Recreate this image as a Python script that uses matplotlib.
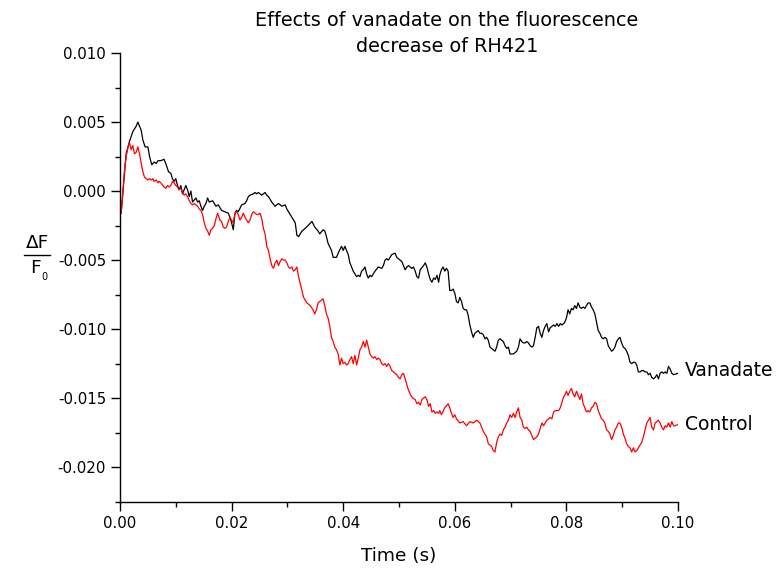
import matplotlib
matplotlib.use("Agg")
import matplotlib.pyplot as plt
from matplotlib.lines import Line2D
from matplotlib.ticker import MultipleLocator, FormatStrFormatter

plt.rcParams['font.family'] = ['DejaVu Sans']
plt.rcParams['axes.unicode_minus'] = False

# Vanadate trace (time in s, dF/F0)
t_vanadate = [
    0.0002, 0.0011, 0.0017, 0.0023, 0.0029, 0.0032, 0.0035, 0.0038, 0.0041, 0.0045,
    0.0050, 0.0053, 0.0057, 0.0061, 0.0065, 0.0068, 0.0073, 0.0079, 0.0082, 0.0087,
    0.0091, 0.0094, 0.0097, 0.0100, 0.0103, 0.0106, 0.0109, 0.0112, 0.0118, 0.0121,
    0.0124, 0.0127, 0.0130, 0.0136, 0.0139, 0.0142, 0.0145, 0.0148, 0.0151, 0.0154,
    0.0157, 0.0160, 0.0166, 0.0172, 0.0176, 0.0182, 0.0188, 0.0194, 0.0197, 0.0200,
    0.0203, 0.0206, 0.0209, 0.0212, 0.0218, 0.0224, 0.0227, 0.0230, 0.0233, 0.0239,
    0.0242, 0.0245, 0.0248, 0.0254, 0.0260, 0.0263, 0.0266, 0.0272, 0.0278, 0.0284,
    0.0290, 0.0296, 0.0299, 0.0302, 0.0308, 0.0314, 0.0317, 0.0320, 0.0326, 0.0332,
    0.0337, 0.0344, 0.0349, 0.0355, 0.0358, 0.0364, 0.0367, 0.0370, 0.0373, 0.0379,
    0.0382, 0.0388, 0.0391, 0.0397, 0.0400, 0.0403, 0.0406, 0.0409, 0.0412, 0.0415,
    0.0418, 0.0421, 0.0424, 0.0427, 0.0430, 0.0433, 0.0436, 0.0439, 0.0442, 0.0445,
    0.0448, 0.0451, 0.0454, 0.0457, 0.0463, 0.0469, 0.0472, 0.0475, 0.0478, 0.0481,
    0.0487, 0.0493, 0.0496, 0.0499, 0.0505, 0.0508, 0.0511, 0.0514, 0.0517, 0.0523,
    0.0526, 0.0529, 0.0532, 0.0535, 0.0538, 0.0544, 0.0547, 0.0550, 0.0553, 0.0556,
    0.0559, 0.0562, 0.0565, 0.0568, 0.0571, 0.0573, 0.0576, 0.0579, 0.0582, 0.0585,
    0.0588, 0.0591, 0.0594, 0.0597, 0.0600, 0.0603, 0.0606, 0.0609, 0.0612, 0.0615,
    0.0618, 0.0621, 0.0624, 0.0627, 0.0630, 0.0633, 0.0636, 0.0639, 0.0642, 0.0645,
    0.0648, 0.0651, 0.0654, 0.0657, 0.0660, 0.0663, 0.0666, 0.0669, 0.0672, 0.0675,
    0.0678, 0.0681, 0.0684, 0.0687, 0.0690, 0.0693, 0.0696, 0.0699, 0.0705, 0.0708,
    0.0711, 0.0714, 0.0717, 0.0720, 0.0723, 0.0726, 0.0729, 0.0732, 0.0735, 0.0738,
    0.0741, 0.0744, 0.0747, 0.0750, 0.0753, 0.0756, 0.0759, 0.0762, 0.0765, 0.0768,
    0.0771, 0.0774, 0.0777, 0.0780, 0.0783, 0.0786, 0.0789, 0.0792, 0.0795, 0.0797,
    0.0800, 0.0803, 0.0806, 0.0809, 0.0812, 0.0815, 0.0818, 0.0821, 0.0824, 0.0827,
    0.0830, 0.0833, 0.0836, 0.0839, 0.0842, 0.0845, 0.0848, 0.0851, 0.0854, 0.0857,
    0.0860, 0.0863, 0.0866, 0.0869, 0.0872, 0.0875, 0.0878, 0.0881, 0.0884, 0.0887,
    0.0890, 0.0893, 0.0896, 0.0899, 0.0902, 0.0905, 0.0908, 0.0911, 0.0914, 0.0917,
    0.0920, 0.0923, 0.0926, 0.0929, 0.0932, 0.0935, 0.0938, 0.0941, 0.0944, 0.0947,
    0.0950, 0.0953, 0.0956, 0.0959, 0.0962, 0.0965, 0.0968, 0.0971, 0.0974, 0.0977,
    0.0980, 0.0983, 0.0986, 0.0989, 0.0992, 0.1000,
]
dff_vanadate = [
    -0.0016, 0.0027, 0.0036, 0.0043, 0.0047, 0.0050, 0.0047, 0.0044, 0.0037, 0.0032,
    0.0032, 0.0025, 0.0019, 0.0021, 0.0020, 0.0022, 0.0022, 0.0023, 0.0020, 0.0014,
    0.0013, 0.0009, 0.0007, 0.0009, 0.0004, 0.0001, 0.0004, -0.0002, 0.0004, 0.0001,
    -0.0004, 0.0000, -0.0008, -0.0005, -0.0008, -0.0007, -0.0011, -0.0014, -0.0011, -0.0009,
    -0.0005, -0.0008, -0.0007, -0.0011, -0.0010, -0.0014, -0.0015, -0.0016, -0.0019, -0.0023,
    -0.0028, -0.0016, -0.0014, -0.0015, -0.0010, -0.0009, -0.0007, -0.0004, -0.0003, -0.0002,
    -0.0001, -0.0002, -0.0001, -0.0003, -0.0001, -0.0003, -0.0004, -0.0008, -0.0011, -0.0009,
    -0.0011, -0.0010, -0.0013, -0.0015, -0.0019, -0.0023, -0.0032, -0.0033, -0.0029, -0.0027,
    -0.0025, -0.0022, -0.0026, -0.0029, -0.0031, -0.0028, -0.0029, -0.0033, -0.0038, -0.0043,
    -0.0048, -0.0048, -0.0045, -0.0040, -0.0043, -0.0040, -0.0043, -0.0046, -0.0052, -0.0055,
    -0.0058, -0.0060, -0.0062, -0.0061, -0.0062, -0.0058, -0.0057, -0.0055, -0.0060, -0.0063,
    -0.0061, -0.0062, -0.0060, -0.0058, -0.0055, -0.0056, -0.0054, -0.0050, -0.0049, -0.0050,
    -0.0046, -0.0045, -0.0048, -0.0049, -0.0051, -0.0054, -0.0057, -0.0055, -0.0054, -0.0056,
    -0.0055, -0.0058, -0.0062, -0.0063, -0.0057, -0.0054, -0.0052, -0.0055, -0.0060, -0.0064,
    -0.0066, -0.0063, -0.0064, -0.0061, -0.0066, -0.0061, -0.0057, -0.0055, -0.0058, -0.0056,
    -0.0058, -0.0072, -0.0072, -0.0071, -0.0074, -0.0080, -0.0081, -0.0077, -0.0080, -0.0085,
    -0.0086, -0.0086, -0.0090, -0.0097, -0.0102, -0.0106, -0.0103, -0.0102, -0.0101, -0.0103,
    -0.0103, -0.0104, -0.0107, -0.0106, -0.0108, -0.0113, -0.0114, -0.0115, -0.0116, -0.0113,
    -0.0108, -0.0107, -0.0108, -0.0109, -0.0112, -0.0114, -0.0113, -0.0118, -0.0118, -0.0117,
    -0.0116, -0.0113, -0.0107, -0.0109, -0.0110, -0.0110, -0.0109, -0.0110, -0.0112, -0.0113,
    -0.0112, -0.0106, -0.0099, -0.0098, -0.0103, -0.0106, -0.0101, -0.0098, -0.0096, -0.0102,
    -0.0099, -0.0098, -0.0097, -0.0098, -0.0096, -0.0098, -0.0096, -0.0097, -0.0096, -0.0095,
    -0.0092, -0.0086, -0.0089, -0.0085, -0.0086, -0.0083, -0.0085, -0.0081, -0.0084, -0.0085,
    -0.0084, -0.0085, -0.0083, -0.0081, -0.0081, -0.0084, -0.0086, -0.0089, -0.0095, -0.0101,
    -0.0103, -0.0106, -0.0107, -0.0106, -0.0107, -0.0112, -0.0114, -0.0116, -0.0115, -0.0113,
    -0.0109, -0.0107, -0.0106, -0.0110, -0.0113, -0.0114, -0.0116, -0.0119, -0.0124, -0.0125,
    -0.0124, -0.0124, -0.0126, -0.0131, -0.0131, -0.0130, -0.0130, -0.0131, -0.0131, -0.0133,
    -0.0132, -0.0135, -0.0136, -0.0135, -0.0133, -0.0136, -0.0132, -0.0131, -0.0132, -0.0131,
    -0.0132, -0.0127, -0.0129, -0.0132, -0.0133, -0.0132,
]

# Control trace (time in s, dF/F0)
t_control = [
    0.0002, 0.0005, 0.0008, 0.0011, 0.0014, 0.0017, 0.0020, 0.0023, 0.0026, 0.0029,
    0.0032, 0.0035, 0.0038, 0.0041, 0.0044, 0.0047, 0.0050, 0.0053, 0.0056, 0.0059,
    0.0061, 0.0065, 0.0068, 0.0070, 0.0073, 0.0077, 0.0079, 0.0082, 0.0085, 0.0088,
    0.0091, 0.0094, 0.0097, 0.0100, 0.0103, 0.0106, 0.0109, 0.0112, 0.0115, 0.0118,
    0.0121, 0.0124, 0.0127, 0.0130, 0.0133, 0.0136, 0.0139, 0.0142, 0.0145, 0.0148,
    0.0151, 0.0154, 0.0157, 0.0160, 0.0163, 0.0166, 0.0169, 0.0172, 0.0175, 0.0179,
    0.0182, 0.0185, 0.0188, 0.0191, 0.0194, 0.0197, 0.0200, 0.0203, 0.0206, 0.0209,
    0.0212, 0.0215, 0.0218, 0.0221, 0.0224, 0.0227, 0.0230, 0.0233, 0.0236, 0.0239,
    0.0242, 0.0245, 0.0248, 0.0251, 0.0254, 0.0257, 0.0260, 0.0263, 0.0266, 0.0269,
    0.0272, 0.0275, 0.0278, 0.0281, 0.0284, 0.0287, 0.0290, 0.0293, 0.0296, 0.0299,
    0.0302, 0.0305, 0.0308, 0.0311, 0.0314, 0.0317, 0.0320, 0.0323, 0.0326, 0.0329,
    0.0335, 0.0341, 0.0346, 0.0349, 0.0352, 0.0355, 0.0358, 0.0361, 0.0364, 0.0367,
    0.0370, 0.0373, 0.0376, 0.0379, 0.0382, 0.0385, 0.0388, 0.0391, 0.0394, 0.0397,
    0.0400, 0.0403, 0.0406, 0.0409, 0.0412, 0.0415, 0.0418, 0.0421, 0.0424, 0.0427,
    0.0430, 0.0433, 0.0436, 0.0439, 0.0442, 0.0445, 0.0448, 0.0451, 0.0454, 0.0457,
    0.0460, 0.0463, 0.0466, 0.0469, 0.0472, 0.0475, 0.0478, 0.0481, 0.0484, 0.0487,
    0.0490, 0.0493, 0.0496, 0.0499, 0.0502, 0.0505, 0.0508, 0.0511, 0.0516, 0.0521,
    0.0525, 0.0529, 0.0532, 0.0535, 0.0538, 0.0541, 0.0544, 0.0547, 0.0550, 0.0553,
    0.0556, 0.0559, 0.0562, 0.0565, 0.0568, 0.0571, 0.0573, 0.0576, 0.0582, 0.0588,
    0.0591, 0.0594, 0.0597, 0.0600, 0.0603, 0.0609, 0.0615, 0.0621, 0.0627, 0.0633,
    0.0639, 0.0645, 0.0648, 0.0651, 0.0657, 0.0660, 0.0663, 0.0666, 0.0669, 0.0672,
    0.0675, 0.0678, 0.0681, 0.0684, 0.0687, 0.0690, 0.0693, 0.0696, 0.0699, 0.0702,
    0.0705, 0.0708, 0.0711, 0.0714, 0.0717, 0.0720, 0.0723, 0.0726, 0.0729, 0.0732,
    0.0735, 0.0738, 0.0741, 0.0744, 0.0747, 0.0750, 0.0753, 0.0756, 0.0759, 0.0762,
    0.0765, 0.0768, 0.0771, 0.0774, 0.0777, 0.0780, 0.0783, 0.0786, 0.0789, 0.0792,
    0.0795, 0.0797, 0.0800, 0.0803, 0.0806, 0.0809, 0.0812, 0.0815, 0.0818, 0.0821,
    0.0824, 0.0827, 0.0830, 0.0833, 0.0836, 0.0839, 0.0842, 0.0845, 0.0848, 0.0851,
    0.0854, 0.0857, 0.0860, 0.0863, 0.0866, 0.0869, 0.0872, 0.0875, 0.0878, 0.0881,
    0.0884, 0.0887, 0.0890, 0.0893, 0.0896, 0.0899, 0.0902, 0.0905, 0.0908, 0.0911,
    0.0914, 0.0917, 0.0920, 0.0923, 0.0926, 0.0929, 0.0932, 0.0935, 0.0938, 0.0941,
    0.0944, 0.0947, 0.0950, 0.0953, 0.0956, 0.0959, 0.0962, 0.0965, 0.0968, 0.0971,
    0.0974, 0.0977, 0.0980, 0.0983, 0.0986, 0.0989, 0.0992, 0.0995, 0.1000,
]
dff_control = [
    -0.0016, -0.0002, 0.0015, 0.0025, 0.0031, 0.0035, 0.0030, 0.0033, 0.0027, 0.0028,
    0.0032, 0.0027, 0.0020, 0.0014, 0.0010, 0.0009, 0.0008, 0.0009, 0.0008, 0.0009,
    0.0007, 0.0008, 0.0006, 0.0007, 0.0006, 0.0004, 0.0003, 0.0002, 0.0004, 0.0003,
    0.0004, 0.0007, 0.0006, 0.0004, 0.0003, 0.0001, 0.0002, -0.0001, -0.0003, -0.0002,
    -0.0004, -0.0007, -0.0009, -0.0010, -0.0009, -0.0010, -0.0011, -0.0013, -0.0014, -0.0017,
    -0.0023, -0.0027, -0.0029, -0.0032, -0.0028, -0.0027, -0.0025, -0.0020, -0.0016, -0.0021,
    -0.0022, -0.0026, -0.0027, -0.0026, -0.0022, -0.0019, -0.0021, -0.0023, -0.0016, -0.0015,
    -0.0017, -0.0021, -0.0019, -0.0016, -0.0019, -0.0021, -0.0023, -0.0021, -0.0017, -0.0015,
    -0.0016, -0.0017, -0.0017, -0.0016, -0.0020, -0.0027, -0.0031, -0.0040, -0.0043, -0.0049,
    -0.0054, -0.0056, -0.0052, -0.0050, -0.0054, -0.0051, -0.0049, -0.0050, -0.0050, -0.0052,
    -0.0055, -0.0056, -0.0055, -0.0058, -0.0057, -0.0055, -0.0062, -0.0067, -0.0072, -0.0077,
    -0.0081, -0.0083, -0.0086, -0.0089, -0.0086, -0.0081, -0.0080, -0.0079, -0.0078, -0.0083,
    -0.0089, -0.0092, -0.0098, -0.0106, -0.0109, -0.0113, -0.0115, -0.0118, -0.0126, -0.0121,
    -0.0125, -0.0124, -0.0126, -0.0125, -0.0122, -0.0120, -0.0125, -0.0119, -0.0126, -0.0121,
    -0.0115, -0.0113, -0.0109, -0.0113, -0.0108, -0.0113, -0.0118, -0.0120, -0.0121, -0.0120,
    -0.0122, -0.0121, -0.0122, -0.0125, -0.0126, -0.0125, -0.0127, -0.0125, -0.0127, -0.0130,
    -0.0131, -0.0132, -0.0133, -0.0135, -0.0136, -0.0133, -0.0132, -0.0136, -0.0143, -0.0148,
    -0.0150, -0.0151, -0.0154, -0.0153, -0.0155, -0.0151, -0.0150, -0.0149, -0.0151, -0.0156,
    -0.0154, -0.0160, -0.0159, -0.0161, -0.0160, -0.0161, -0.0159, -0.0162, -0.0157, -0.0154,
    -0.0157, -0.0161, -0.0164, -0.0162, -0.0165, -0.0168, -0.0167, -0.0170, -0.0167, -0.0168,
    -0.0166, -0.0168, -0.0171, -0.0174, -0.0178, -0.0183, -0.0184, -0.0185, -0.0188, -0.0189,
    -0.0182, -0.0178, -0.0176, -0.0177, -0.0173, -0.0171, -0.0168, -0.0166, -0.0162, -0.0164,
    -0.0161, -0.0164, -0.0160, -0.0157, -0.0164, -0.0166, -0.0171, -0.0172, -0.0171, -0.0173,
    -0.0174, -0.0177, -0.0180, -0.0179, -0.0178, -0.0176, -0.0172, -0.0168, -0.0170, -0.0168,
    -0.0166, -0.0165, -0.0164, -0.0165, -0.0160, -0.0159, -0.0159, -0.0159, -0.0157, -0.0153,
    -0.0149, -0.0148, -0.0145, -0.0148, -0.0145, -0.0143, -0.0147, -0.0149, -0.0145, -0.0148,
    -0.0151, -0.0147, -0.0154, -0.0157, -0.0160, -0.0159, -0.0160, -0.0157, -0.0156, -0.0153,
    -0.0154, -0.0159, -0.0162, -0.0165, -0.0166, -0.0168, -0.0173, -0.0174, -0.0176, -0.0180,
    -0.0177, -0.0173, -0.0171, -0.0168, -0.0168, -0.0171, -0.0176, -0.0179, -0.0183, -0.0185,
    -0.0186, -0.0189, -0.0186, -0.0189, -0.0188, -0.0186, -0.0184, -0.0182, -0.0178, -0.0173,
    -0.0168, -0.0166, -0.0164, -0.0171, -0.0173, -0.0168, -0.0167, -0.0166, -0.0168, -0.0171,
    -0.0173, -0.0170, -0.0171, -0.0168, -0.0171, -0.0167, -0.0170, -0.0170, -0.0169,
]

fig = plt.figure(figsize=(7.78, 5.68), dpi=100)
ax = fig.add_axes([120 / 778, 1 - 501.7 / 568, 558 / 778, 448.7 / 568])

ax.plot(t_vanadate, dff_vanadate, color='black', lw=0.9)
ax.plot(t_control, dff_control, color='red', lw=0.9)

ax.set_xlim(0, 0.10)
ax.set_ylim(-0.0225, 0.010)

for side in ['top', 'right']:
    ax.spines[side].set_visible(False)
for side in ['left', 'bottom']:
    ax.spines[side].set_linewidth(1.0)

ax.xaxis.set_major_locator(MultipleLocator(0.02))
ax.xaxis.set_minor_locator(MultipleLocator(0.01))
ax.yaxis.set_major_locator(MultipleLocator(0.005))
ax.yaxis.set_minor_locator(MultipleLocator(0.0025))
ax.xaxis.set_major_formatter(FormatStrFormatter('%.2f'))
ax.yaxis.set_major_formatter(FormatStrFormatter('%.3f'))
ax.tick_params(which='major', direction='out', length=6.5, width=1.0, labelsize=10.8, pad=3.5)
ax.tick_params(which='minor', direction='out', length=3.5, width=1.0)

ax.set_xlabel('Time (s)', fontsize=13.3, labelpad=12)

# title (two centred lines)
fig.text(447 / 778, 1 - 20 / 568, 'Effects of vanadate on the fluorescence',
         ha='center', va='center', fontsize=13.9)
fig.text(447 / 778, 1 - 47 / 568, 'decrease of RH421',
         ha='center', va='center', fontsize=13.9)

# y label: dF over F0
fig.text(37 / 778, 1 - 243 / 568, '\u0394F', ha='center', va='center', fontsize=13.3)
fig.add_artist(Line2D([24 / 778, 50 / 778], [1 - 255 / 568, 1 - 255 / 568],
                      color='black', lw=1.0))
fig.text(35 / 778, 1 - 268 / 568, 'F', ha='center', va='center', fontsize=13.3)
fig.text(44 / 778, 1 - 277 / 568, '0', ha='center', va='center', fontsize=7)

# series labels
ax.text(685 / 778, 1 - 370 / 568, 'Vanadate', transform=fig.transFigure,
        ha='left', va='center', fontsize=13.5)
ax.text(685 / 778, 1 - 425 / 568, 'Control', transform=fig.transFigure,
        ha='left', va='center', fontsize=13.5)

fig.savefig('out.png', dpi=100)
